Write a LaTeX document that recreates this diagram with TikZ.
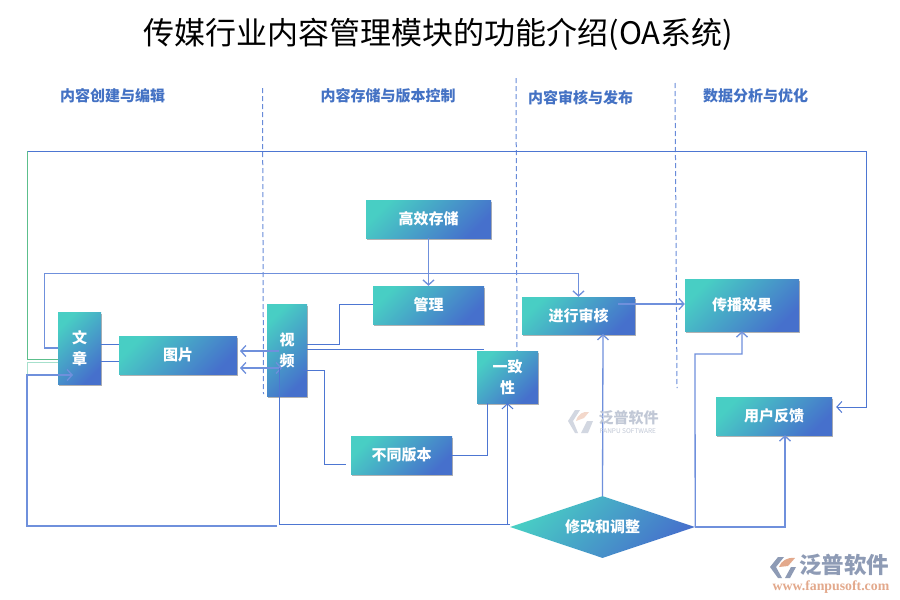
\documentclass[tikz,border=0pt]{standalone}
\usepackage{fontspec}
\setmainfont{Noto Sans CJK SC}
\newfontfamily\urlfont{Liberation Serif}
\usetikzlibrary{arrows.meta,shadows,shapes.geometric}
\definecolor{boxteal}{HTML}{48CEC4}
\definecolor{boxblue}{HTML}{4670CC}
\definecolor{linkblue}{HTML}{4D76D2}
\definecolor{paleblue}{HTML}{6F90DC}
\definecolor{headblue}{HTML}{4472C4}
\definecolor{linkgreen}{HTML}{5CBF8C}
\definecolor{palegreen}{HTML}{A6E0CC}
\definecolor{logogray}{HTML}{8E9BB5}
\definecolor{logoorange}{HTML}{E3A98C}
\tikzset{
  boxnode/.style={rectangle,inner sep=0pt,text=white,align=center,
    font=\bfseries\fontsize{15}{21}\selectfont,
    left color=boxteal,right color=boxblue,shading angle=45,
    drop shadow={shadow xshift=.6pt,shadow yshift=-2pt,fill=black,opacity=.3}},
  head/.style={text=headblue,inner sep=0pt,font=\bfseries\fontsize{15}{18}\selectfont},
  link/.style={draw=linkblue,line width=1pt},
  palelink/.style={draw=paleblue,line width=1.3pt},
  sep/.style={draw=linkblue!85,line width=1pt,dash pattern=on 5pt off 3pt},
}
\begin{document}
\begin{tikzpicture}[x=1pt,y=-1pt,>={Straight Barb[length=5pt,width=11pt]}]
   \useasboundingbox[fill=white] (0,0) rectangle (900,600);
   \node[inner sep=0pt,font=\fontsize{31}{36}\selectfont] (title) at (438.5,34) {传媒行业内容管理模块的功能介绍(OA系统)};
   \node[head] (headA) at (112.5,96) {内容创建与编辑};
   \node[head] (headB) at (388,96) {内容存储与版本控制};
   \node[head] (headC) at (580.5,98) {内容审核与发布};
   \node[head] (headD) at (755.5,96) {数据分析与优化};
   % column separators
   \draw[sep] (262.5,88) -- (263.5,394);
   \draw[sep] (516,78) -- (517,351);
   \draw[sep] (675,83) -- (677,388);
   % boxes
   \node[boxnode,minimum width=43pt,minimum height=72pt] (wenzhang) at (79.5,348) {文\\章};
   \node[boxnode,minimum width=118pt,minimum height=38pt] (tupian) at (178,355) {图片};
   \node[boxnode,minimum width=40pt,minimum height=92pt] (shipin) at (287,350) {视\\频};
   \node[boxnode,minimum width=125pt,minimum height=38pt] (cunchu) at (428.5,219) {高效存储};
   \node[boxnode,minimum width=111pt,minimum height=38pt] (guanli) at (428.5,305) {管理};
   \node[boxnode,minimum width=113pt,minimum height=37pt] (shenhe) at (578.5,315.5) {进行审核};
   \node[boxnode,minimum width=61pt,minimum height=52pt] (yizhi) at (507.5,377) {一致\\性};
   \node[boxnode,minimum width=101pt,minimum height=38pt] (banben) at (401.5,455) {不同版本};
   \node[boxnode,minimum width=114pt,minimum height=52pt] (xiaoguo) at (742,305) {传播效果};
   \node[boxnode,minimum width=116pt,minimum height=38pt] (fankui) at (774,416) {用户反馈};
   \node[diamond,inner sep=0pt,aspect=3,minimum width=185pt,minimum height=62pt,text=white,
     left color=boxteal,right color=boxblue,shading angle=45,
     font=\bfseries\fontsize{15}{21}\selectfont] (tiaozheng) at (602.5,527) {修改和调整};
   % outer loops
   \draw[draw=linkgreen,line width=1pt] (wenzhang.west |- 0,359) -- (27.5,359) -- (27.5,151);
   \draw[draw=palegreen,line width=1pt] (wenzhang.west |- 0,362.5) -- (27,362.5) -- (27,375);
   \draw[link,->,shorten >=4pt] (27.5,151) -- (866,151) -- (866,407) -- (fankui.east |- 0,407);
   \draw[palelink,->] (wenzhang.west |- 0,348) -- (44.5,348) -- (44.5,273.5) -- (578.5,273.5) -- (shenhe.north);
   \coordinate (loopend) at (277,526);
   \draw[palelink,->] (loopend) -- (27,526) -- (27,375) -- (73,375);
   % article, picture, video
   \draw[link] (wenzhang.east |- 0,344) -- (tupian.west |- 0,344);
   \draw[link] (wenzhang.east |- 0,361) -- (tupian.west |- 0,361);
   \draw[palelink,->] (279,351) -- (240,351);
   \draw[palelink,<->] (240,368) -- (282,368);
   \draw[link] (279,368) -- (279,524.5) -- (tiaozheng.west |- 0,524.5);
   \draw[link] (shipin.east |- 0,344) -- (339,344) -- (339,304) -- (guanli.west |- 0,304);
   \draw[link] (shipin.east |- 0,349.5) -- (484,349.5);
   \draw[link] (303,370) -- (324,370) -- (324,464) -- (346,464);
   \draw[link] (banben.east) -- (487,455) -- (yizhi.south -| 487,0);
   % into boxes
   \draw[palelink,->] (cunchu.south) -- (guanli.north -| cunchu.south);
   \draw[link,->] (507.5,524.5) -- (yizhi.south);
   \draw[palelink,->] (618,304) -- (xiaoguo.west |- 0,304);
   \draw[palelink,->] (tiaozheng.north) -- (603,334);
   \draw[palelink,->] (tiaozheng.east) -- (695,354) -- (742,354) -- (xiaoguo.south);
   \draw[palelink,->] (tiaozheng.east) -- (785,527) -- (fankui.south -| 785,0);
   % watermark
   \fill[logogray!40] (568,421) -- (575,410) -- (580,410) -- (573,421) -- (578,433) -- (575,433) -- cycle;
   \fill[logoorange!45] (576,421) .. controls (578,414) and (583,411) .. (589,412) -- (584,418) -- cycle;
   \fill[logogray!40] (581,433) -- (587,421) -- (593,421) -- (588,433) -- cycle;
   \node[inner sep=0pt,text=logogray!55,font=\bfseries\fontsize{15}{15}\selectfont] (markcn) at (628.5,418) {泛普软件};
   \node[inner sep=0pt,text=logogray!55,font=\fontsize{6.5}{7}\selectfont] (markuk) at (628,431) {FANPU SOFTWARE};
   % logo
   \fill[logogray] (770,567) -- (778,557) -- (784,557) -- (776,567) -- (782,578) -- (778,578) -- cycle;
   \fill[logoorange] (779,567) .. controls (781,561) and (787,557) .. (795,558) -- (788,566) -- cycle;
   \fill[logogray] (785,578) -- (791,567) -- (796,567) -- (790,578) -- cycle;
   \node[inner sep=0pt,text=logogray,font=\bfseries\fontsize{22.5}{23}\selectfont] (logocn) at (844,565) {泛普软件};
   \node[inner sep=0pt,text=logoorange,font=\urlfont\bfseries\fontsize{13.8}{14}\selectfont] (logourl) at (831,587) {www.fanpusoft.com};
\end{tikzpicture}
\end{document}
